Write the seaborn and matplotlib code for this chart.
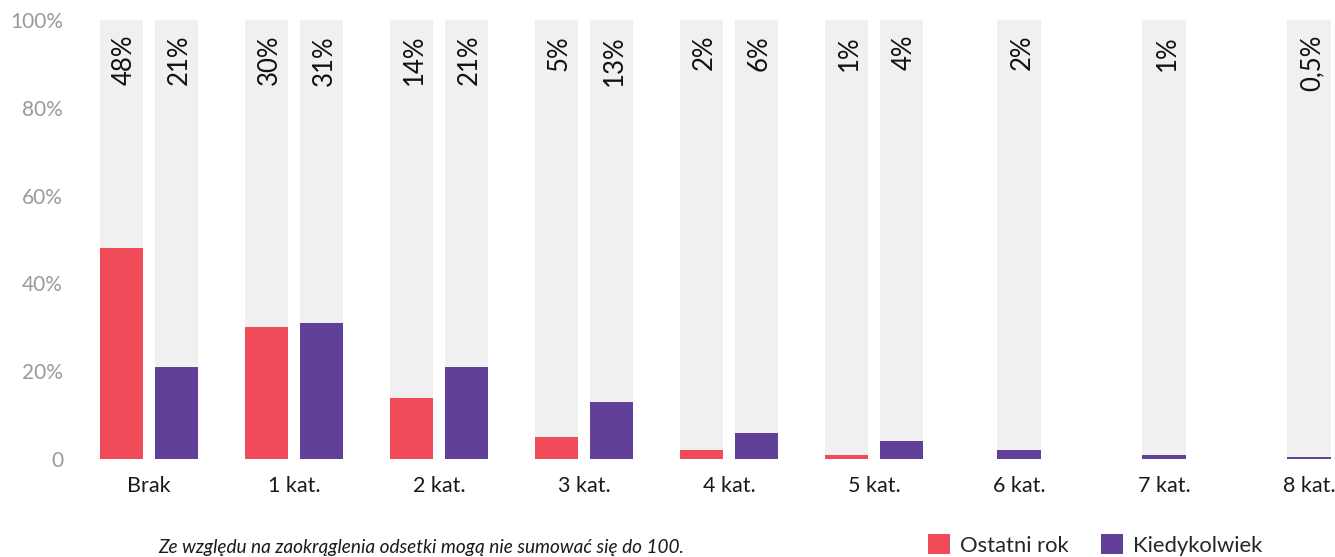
import matplotlib
matplotlib.use("Agg")
import matplotlib.pyplot as plt
from matplotlib.patches import Patch
import seaborn as sns
import pandas as pd

categories = ["Brak", "1 kat.", "2 kat.", "3 kat.", "4 kat.", "5 kat.", "6 kat.", "7 kat.", "8 kat."]
ostatni_rok = [48, 30, 14, 5, 2, 1, None, None, None]
kiedykolwiek = [21, 31, 21, 13, 6, 4, 2, 1, 0.5]
ostatni_labels = ["48%", "30%", "14%", "5%", "2%", "1%", None, None, None]
kiedy_labels = ["21%", "31%", "21%", "13%", "6%", "4%", "2%", "1%", "0,5%"]
series_names = ["Ostatni rok", "Kiedykolwiek"]
ytick_vals = [0, 20, 40, 60, 80, 100]
ytick_labels = ["0", "20%", "40%", "60%", "80%", "100%"]
note = "Ze względu na zaokrąglenia odsetki mogą nie sumować się do 100."

RED = "#F04B58"
PURPLE = "#604098"
BG = "#F0F0F0"

sns.set_style("white")
plt.rcParams["font.family"] = ["Lato", "DejaVu Sans"]

# positions
off = 0.191
bar_w = 0.2966
rows = []
for i, cat in enumerate(categories):
    r = ostatni_rok[i]
    k = kiedykolwiek[i]
    if r is not None:
        rows.append({"pos": i - off, "val": r, "series": series_names[0], "label": ostatni_labels[i]})
        rows.append({"pos": i + off, "val": k, "series": series_names[1], "label": kiedy_labels[i]})
    else:
        rows.append({"pos": float(i), "val": k, "series": series_names[1], "label": kiedy_labels[i]})
df = pd.DataFrame(rows)
df["full"] = 100.0

min_gap = 2 * off
rel_w = bar_w / min_gap

fig = plt.figure(figsize=(13.35, 5.57), dpi=100)
ax = fig.add_axes([95 / 1335, 1 - 459 / 557, 1240 / 1335, 439 / 557])

sns.barplot(data=df, x="pos", y="full", native_scale=True, color=BG, width=rel_w,
            errorbar=None, ax=ax, saturation=1, linewidth=0)
sns.barplot(data=df, x="pos", y="val", hue="series", native_scale=True, dodge=False,
            palette={series_names[0]: RED, series_names[1]: PURPLE}, width=rel_w,
            errorbar=None, ax=ax, saturation=1, linewidth=0, legend=False)

for _, row in df.iterrows():
    ax.text(row["pos"] + 0.02, 96.6, row["label"], rotation=90, ha="center", va="top",
            fontsize=18.5, color="#111111")

ax.set_xlim((95 - 149) / 145, (1335 - 149) / 145)
ax.set_ylim(0, 100)
ax.set_xticks(range(len(categories)))
ax.set_xticklabels(categories, fontsize=15.5, color="#1a1a1a")
ax.set_yticks(ytick_vals)
ax.set_yticklabels(ytick_labels, fontsize=15, color="#9a9a9a")
ax.tick_params(axis="x", length=0, pad=12)
ax.tick_params(axis="y", length=0, pad=23)
ax.set_xlabel("")
ax.set_ylabel("")
sns.despine(ax=ax, left=True, bottom=True)

fig.text(421 / 1335, 1 - 547 / 557, note, ha="center", va="center", fontsize=13.7,
         style="italic", color="#1a1a1a")

handles = [Patch(facecolor=RED, edgecolor="none"), Patch(facecolor=PURPLE, edgecolor="none")]
fig.legend(handles, series_names, loc="center left", bbox_to_anchor=(928 / 1335, 1 - 545 / 557),
           frameon=False, fontsize=15.8, handlelength=1.0, handleheight=1.0,
           handletextpad=0.45, columnspacing=1.5, ncol=2, borderaxespad=0, borderpad=0)

fig.savefig("out.png", dpi=100)
